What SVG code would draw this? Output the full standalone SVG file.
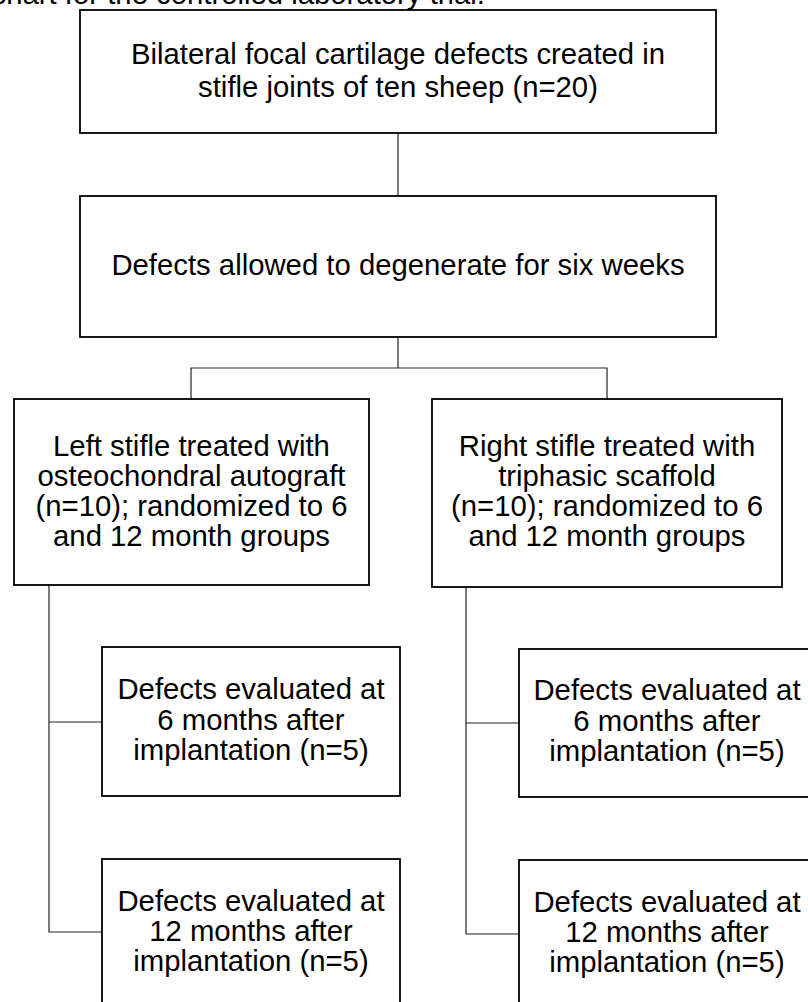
<svg xmlns="http://www.w3.org/2000/svg" width="808" height="1002" viewBox="0 0 808 1002">
<style>
  .box { fill: #ffffff; stroke: #000000; stroke-width: 1.8; }
  .conn { fill: none; stroke: #222222; stroke-width: 1.2; }
  text { font-family: "Liberation Sans", Arial, sans-serif; font-size: 29.3px; fill: #000000; text-anchor: middle; }
</style>
<rect width="808" height="1002" fill="#ffffff"/>
<text x="485" y="4" style="text-anchor:end">chart for the controlled laboratory trial.</text>
<g id="connectors">
  <line class="conn" x1="398" y1="133" x2="398" y2="196"/>
  <polyline class="conn" points="398,337 398,368"/>
  <polyline class="conn" points="191,399 191,368 607,368 607,399"/>
  <polyline class="conn" points="49,585 49,932 102,932"/>
  <line class="conn" x1="49" y1="722" x2="102" y2="722"/>
  <polyline class="conn" points="466,587 466,934 519,934"/>
  <line class="conn" x1="466" y1="723" x2="519" y2="723"/>
</g>
<g id="node-top">
  <rect class="box" x="80" y="10" width="636" height="123"/>
  <text x="398" y="64">Bilateral focal cartilage defects created in</text>
  <text x="398" y="97">stifle joints of ten sheep (n=20)</text>
</g>
<g id="node-degenerate">
  <rect class="box" x="80" y="196" width="636" height="141"/>
  <text x="398" y="275">Defects allowed to degenerate for six weeks</text>
</g>
<g id="node-left">
  <rect class="box" x="14" y="399" width="355" height="186"/>
  <text x="191.5" y="456">Left stifle treated with</text>
  <text x="191.5" y="486">osteochondral autograft</text>
  <text x="191.5" y="516">(n=10); randomized to 6</text>
  <text x="191.5" y="546">and 12 month groups</text>
</g>
<g id="node-right">
  <rect class="box" x="432" y="399" width="350" height="188"/>
  <text x="607" y="456">Right stifle treated with</text>
  <text x="607" y="486">triphasic scaffold</text>
  <text x="607" y="516">(n=10); randomized to 6</text>
  <text x="607" y="546">and 12 month groups</text>
</g>
<g id="node-left-6">
  <rect class="box" x="102" y="647" width="298" height="149"/>
  <text x="251" y="699">Defects evaluated at</text>
  <text x="251" y="730">6 months after</text>
  <text x="251" y="760">implantation (n=5)</text>
</g>
<g id="node-left-12">
  <rect class="box" x="102" y="859" width="298" height="160"/>
  <text x="251" y="911">Defects evaluated at</text>
  <text x="251" y="941">12 months after</text>
  <text x="251" y="971">implantation (n=5)</text>
</g>
<g id="node-right-6">
  <rect class="box" x="519" y="649" width="298" height="148"/>
  <text x="667" y="700">Defects evaluated at</text>
  <text x="667" y="731">6 months after</text>
  <text x="667" y="761">implantation (n=5)</text>
</g>
<g id="node-right-12">
  <rect class="box" x="519" y="860" width="298" height="160"/>
  <text x="667" y="912">Defects evaluated at</text>
  <text x="667" y="942">12 months after</text>
  <text x="667" y="972">implantation (n=5)</text>
</g>
</svg>
